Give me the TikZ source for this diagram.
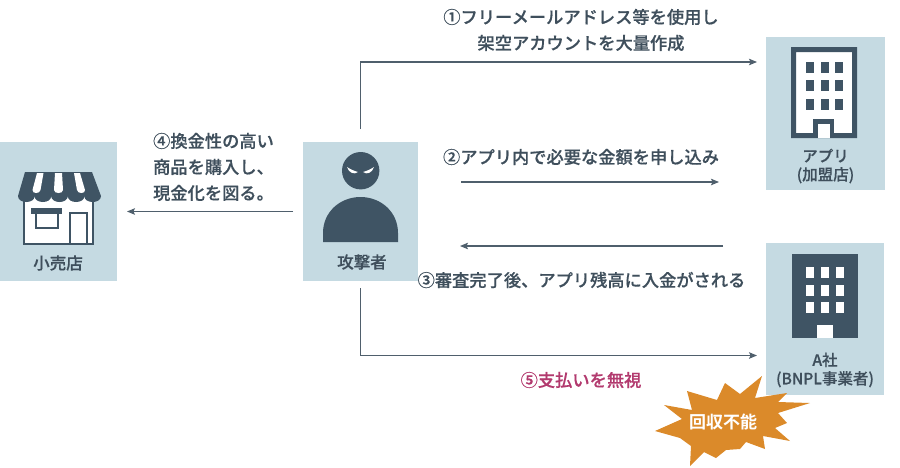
\documentclass[tikz,border=0pt]{standalone}
\usepackage{fontspec}
\usetikzlibrary{arrows.meta}
\setmainfont[FakeBold=0.35]{Noto Sans CJK JP Medium}
\newfontfamily\burstfont{Noto Sans CJK JP Bold}
\definecolor{boxc}{HTML}{C5DAE2}
\definecolor{darkc}{HTML}{3F5464}
\definecolor{linec}{HTML}{4F5F6C}
\definecolor{textc}{HTML}{3F4F5C}
\definecolor{orangec}{HTML}{DB8A2A}
\definecolor{magc}{HTML}{B23A6E}
\tikzset{
  panel/.style={fill=boxc,draw=none,inner sep=0pt,minimum width=#1},
  conn/.style={draw=linec,line width=1.1pt,-{Stealth[length=8pt,width=6.5pt,inset=1.5pt]}},
  msg/.style={text=textc,font=\fontsize{17.25}{26}\selectfont,align=center,inner sep=0pt},
  lab/.style={text=textc,font=\fontsize{15.5}{18.5}\selectfont,align=center,inner sep=0pt},
  ink/.style={fill=darkc,draw=none}
}
\begin{document}
\begin{tikzpicture}[x=1pt,y=-1pt]
\useasboundingbox (0,0) rectangle (900,467);
% panels
\node[panel=117pt,minimum height=139pt] (shop) at (58.5,211.5) {};
\node[panel=115pt,minimum height=139pt] (atk) at (360.5,211.5) {};
\node[panel=119pt,minimum height=153pt] (app) at (825.5,113.5) {};
\node[panel=118pt,minimum height=152pt] (bnpl) at (825,319) {};
% shop icon
\fill[white] (23,198) rectangle (94,245);
\draw[darkc,line width=2pt] (24,198) -- (24,244) -- (93,244) -- (93,198);
\draw[darkc,line width=2pt] (70,243) -- (70,213) -- (87,213) -- (87,243);
\fill[darkc] (31,208) rectangle (62,214);
\draw[darkc,line width=2pt] (36,214) -- (36,227.5) -- (58,227.5) -- (58,214);
\fill[darkc] (25,172) -- (92,172) -- (101,196)
  .. controls (101,204) and (84.4,204) .. (84.4,196)
  .. controls (84.4,204) and (67.8,204) .. (67.8,196)
  .. controls (67.8,204) and (51.2,204) .. (51.2,196)
  .. controls (51.2,204) and (34.6,204) .. (34.6,196)
  .. controls (34.6,204) and (18,204) .. (18,196) -- cycle;
\fill[white] (37,173) -- (43.5,173) -- (40.5,190) .. controls (40,194) and (32,194) .. (32.5,190) -- cycle;
\fill[white] (55,173) -- (62,173) -- (63,190) .. controls (63,194) and (54,194) .. (54,190) -- cycle;
\fill[white] (74,173) -- (80,173) -- (85,190) .. controls (85.5,194) and (77.5,194) .. (77,190) -- cycle;
% attacker icon
\fill[darkc] (360.7,170.7) circle[radius=18.7pt];
\fill[white] (347,167) .. controls (350,169) and (354,171) .. (358,172) .. controls (354,175) and (349,173) .. (347,167) -- cycle;
\fill[white] (374,167) .. controls (371,169) and (367,171) .. (363,172) .. controls (367,175) and (372,173) .. (374,167) -- cycle;
\fill[darkc] (323,242) -- (323,233) .. controls (323,212) and (340,197) .. (360.5,197)
  .. controls (381,197) and (398,212) .. (398,233) -- (398,242) -- cycle;
% app building
\fill[white] (791,47) rectangle (857,138);
\fill[darkc,even odd rule] (791,47) rectangle (857,138) (796,52) rectangle (852,133);
\fill[darkc] (813,119) rectangle (834,138);
\fill[white] (818,124) rectangle (830,138);
\foreach \xx in {806,820.5,835}{\foreach \yy in {62,80,99}{\fill[darkc] (\xx,\yy) rectangle ++(8,11);}}
% bnpl building
\fill[darkc] (792,254) rectangle (858,338);
\foreach \xx in {806,821,836}{\foreach \yy in {267,285,302}{\fill[white] (\xx,\yy) rectangle ++(8,11);}}
\fill[white] (817,325) rectangle (833,338);
% labels
\node[lab,font=\fontsize{16.5}{21}\selectfont] (shoplab) at (58,263) {小売店};
\node[lab,font=\fontsize{16.5}{21}\selectfont] (atklab) at (362,262) {攻撃者};
\node[lab] (applab) at (825.5,166) {アプリ\\(加盟店)};
\node[lab] (bnpllab) at (825,370) {A社\\(BNPL事業者)};
% messages
\node[msg] (m1) at (581,30) {①フリーメールアドレス等を使用し\\架空アカウントを大量作成};
\node[msg] (m2) at (581,157) {②アプリ内で必要な金額を申し込み};
\node[msg] (m3) at (581.5,280) {③審査完了後、アプリ残高に入金がされる};
\node[msg,align=left] (m4) at (213.5,167) {④換金性の高い\\商品を購入し、\\現金化を図る。};
\node[msg,text=magc] (m5) at (581,380) {⑤支払いを無視};
% connectors
\coordinate (c1s) at (360.5,129);
\coordinate (c1b) at (360.5,62);
\coordinate (c1e) at (757,62);
\coordinate (c2s) at (461,182);
\coordinate (c2e) at (719,182);
\coordinate (c3s) at (723,246);
\coordinate (c3e) at (460,246);
\coordinate (c4s) at (293,211.5);
\coordinate (c4e) at (127,211.5);
\coordinate (c5s) at (360.5,288);
\coordinate (c5b) at (360.5,355.5);
\coordinate (c5e) at (757,355.5);
\draw[conn] (c1s) -- (c1b) -- (c1e);
\draw[conn] (c2s) -- (c2e);
\draw[conn] (c3s) -- (c3e);
\draw[conn] (c4s) -- (c4e);
\draw[conn] (c5s) -- (c5b) -- (c5e);
% burst
\fill[orangec] (762,376) -- (755,398) -- (787,393) -- (778,402) -- (810,403) -- (778,413) -- (787,423) -- (775,428) -- (790,441)
  -- (763,436) -- (765,449) -- (746,442) -- (740,449) -- (726,450) -- (716,458) -- (704,452) -- (690,466)
  -- (691,446) -- (680,438) -- (655,431) -- (682,419) -- (664,405) -- (692,410) -- (687,391) -- (717,400) -- (725,383) -- (740,394) -- cycle;
\node[text=white,font=\burstfont\fontsize{17}{20}\selectfont,inner sep=0pt] (burst) at (723,422) {回収不能};
\end{tikzpicture}
\end{document}
